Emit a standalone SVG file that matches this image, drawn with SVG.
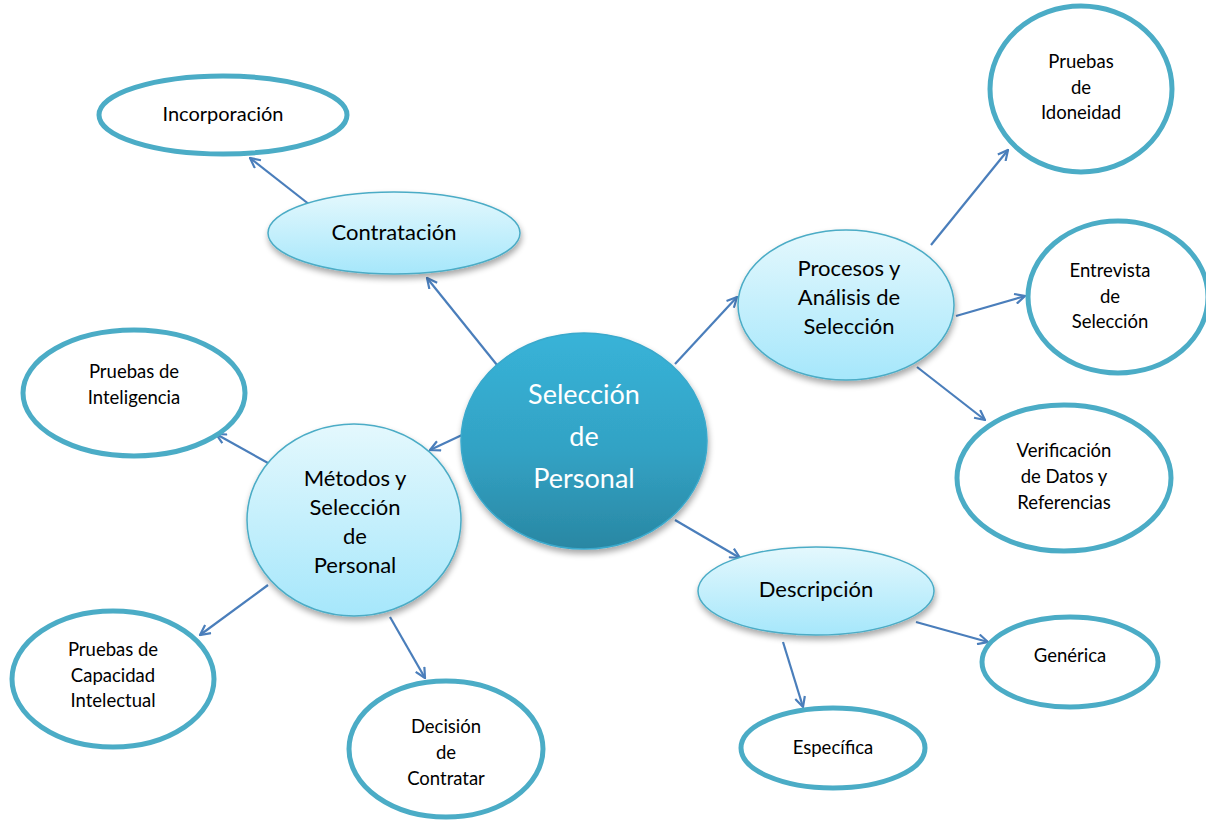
<svg xmlns="http://www.w3.org/2000/svg" width="1206" height="821" viewBox="0 0 1206 821">
<defs>
<linearGradient id="gCentral" x1="0" y1="0" x2="0" y2="1">
<stop offset="0" stop-color="#38b3d8"/>
<stop offset="0.55" stop-color="#32a2c4"/>
<stop offset="1" stop-color="#2a87a3"/>
</linearGradient>
<linearGradient id="gLight" x1="0" y1="0" x2="0" y2="1">
<stop offset="0" stop-color="#e4f8fd"/>
<stop offset="1" stop-color="#a6e7fb"/>
</linearGradient>
<filter id="shadow" x="-20%" y="-20%" width="140%" height="150%">
<feGaussianBlur in="SourceAlpha" stdDeviation="3"/>
<feOffset dx="1" dy="4" result="b"/>
<feComponentTransfer><feFuncA type="linear" slope="0.35"/></feComponentTransfer>
<feMerge><feMergeNode/><feMergeNode in="SourceGraphic"/></feMerge>
</filter>
<marker id="arr" viewBox="0 0 12 12" refX="11" refY="6" markerWidth="12" markerHeight="12" markerUnits="userSpaceOnUse" orient="auto">
<path d="M1,1 L11,6 L1,11" fill="none" stroke="#4a7ebb" stroke-width="2.2"/>
</marker>
</defs>
<style>
.conn line{stroke:#4a7ebb;stroke-width:2.2;marker-end:url(#arr)}
.light{fill:url(#gLight);stroke:#4bacc6;stroke-width:1.5;filter:url(#shadow)}
.leaf{fill:#ffffff;stroke:#4bacc6;stroke-width:5}
text{font-family:Lato,"Open Sans","Liberation Sans",sans-serif;fill:#000;text-anchor:middle}
.t17{font-size:18.5px}
.t18{font-size:20px}
.t20{font-size:22px}
.tc{font-size:27px;fill:#ffffff}
</style>
<rect width="1206" height="821" fill="#ffffff"/>
<g class="conn">
<line x1="497" y1="365" x2="427" y2="278"/>
<line x1="310" y1="205" x2="250" y2="158"/>
<line x1="675" y1="364" x2="737" y2="297"/>
<line x1="931" y1="245" x2="1008" y2="150"/>
<line x1="956" y1="316" x2="1025" y2="296"/>
<line x1="917" y1="367" x2="985" y2="420"/>
<line x1="675" y1="520" x2="740" y2="558"/>
<line x1="916" y1="622" x2="988" y2="642"/>
<line x1="783" y1="642" x2="803" y2="707"/>
<line x1="462" y1="435" x2="430" y2="450"/>
<line x1="268" y1="463" x2="216" y2="434"/>
<line x1="268" y1="585" x2="200" y2="635"/>
<line x1="390" y1="617" x2="425" y2="678"/>
</g>
<g id="incorporacion">
<ellipse class="leaf" cx="223" cy="115" rx="124" ry="39"/>
<text class="t18" x="223" y="121">Incorporación</text>
</g>
<g id="contratacion">
<ellipse class="light" cx="394" cy="233" rx="126" ry="41"/>
<text class="t20" x="394" y="240">Contratación</text>
</g>
<g id="central">
<ellipse cx="584" cy="441" rx="123" ry="108" fill="url(#gCentral)" stroke="#3aa9cc" stroke-width="1.5" filter="url(#shadow)"/>
<text class="tc" x="584" y="404">Selección</text>
<text class="tc" x="584" y="446">de</text>
<text class="tc" x="584" y="488">Personal</text>
</g>
<g id="procesos">
<ellipse class="light" cx="846" cy="305" rx="108" ry="75"/>
<text class="t20" x="849" y="276">Procesos y</text>
<text class="t20" x="849" y="305">Análisis de</text>
<text class="t20" x="849" y="334">Selección</text>
</g>
<g id="idoneidad">
<ellipse class="leaf" cx="1081" cy="89" rx="91" ry="83"/>
<text class="t17" x="1081" y="68">Pruebas</text>
<text class="t17" x="1081" y="94">de</text>
<text class="t17" x="1081" y="119">Idoneidad</text>
</g>
<g id="entrevista">
<ellipse class="leaf" cx="1118" cy="297" rx="90" ry="76"/>
<text class="t17" x="1110" y="277">Entrevista</text>
<text class="t17" x="1110" y="303">de</text>
<text class="t17" x="1110" y="328">Selección</text>
</g>
<g id="verificacion">
<ellipse class="leaf" cx="1064" cy="478" rx="107" ry="73"/>
<text class="t17" x="1064" y="457">Verificación</text>
<text class="t17" x="1064" y="483">de Datos y</text>
<text class="t17" x="1064" y="509">Referencias</text>
</g>
<g id="descripcion">
<ellipse class="light" cx="816" cy="591" rx="118" ry="44"/>
<text class="t20" x="816" y="597">Descripción</text>
</g>
<g id="generica">
<ellipse class="leaf" cx="1070" cy="662" rx="88" ry="45"/>
<text class="t17" x="1070" y="662">Genérica</text>
</g>
<g id="especifica">
<ellipse class="leaf" cx="833" cy="748" rx="92" ry="40"/>
<text class="t17" x="833" y="754">Específica</text>
</g>
<g id="metodos">
<ellipse class="light" cx="354" cy="520" rx="107" ry="96"/>
<text class="t20" x="355" y="486">Métodos y</text>
<text class="t20" x="355" y="515">Selección</text>
<text class="t20" x="355" y="544">de</text>
<text class="t20" x="355" y="573">Personal</text>
</g>
<g id="inteligencia">
<ellipse class="leaf" cx="134" cy="393" rx="111" ry="63"/>
<text class="t17" x="134" y="378">Pruebas de</text>
<text class="t17" x="134" y="404">Inteligencia</text>
</g>
<g id="capacidad">
<ellipse class="leaf" cx="113" cy="679" rx="101" ry="68"/>
<text class="t17" x="113" y="656">Pruebas de</text>
<text class="t17" x="113" y="682">Capacidad</text>
<text class="t17" x="113" y="707">Intelectual</text>
</g>
<g id="decision">
<ellipse class="leaf" cx="446" cy="749" rx="97" ry="68"/>
<text class="t17" x="446" y="733">Decisión</text>
<text class="t17" x="446" y="759">de</text>
<text class="t17" x="446" y="785">Contratar</text>
</g>
</svg>
